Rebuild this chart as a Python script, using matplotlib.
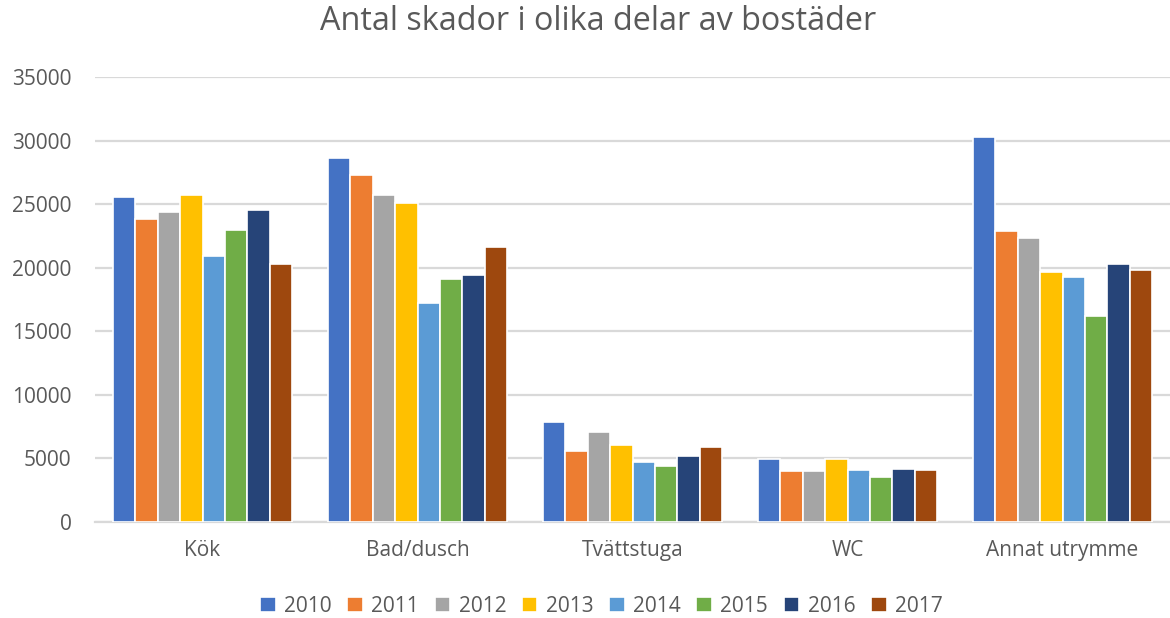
import matplotlib
matplotlib.use("Agg")
import matplotlib.pyplot as plt
import numpy as np

# Antal skador per utrymme och år
rum = ["Kök", "Bad/dusch", "Tvättstuga", "WC", "Annat utrymme"]
ar = ["2010", "2011", "2012", "2013", "2014", "2015", "2016", "2017"]

skador_2010 = [25600, 28600, 7900, 4950, 30300]
skador_2011 = [23800, 27300, 5600, 4050, 22900]
skador_2012 = [24400, 25700, 7100, 4050, 22300]
skador_2013 = [25700, 25100, 6050, 4950, 19700]
skador_2014 = [20900, 17200, 4700, 4100, 19300]
skador_2015 = [23000, 19100, 4400, 3550, 16200]
skador_2016 = [24550, 19400, 5200, 4150, 20300]
skador_2017 = [20300, 21600, 5900, 4100, 19800]

serier = [skador_2010, skador_2011, skador_2012, skador_2013,
          skador_2014, skador_2015, skador_2016, skador_2017]
farger = ["#4472C4", "#ED7D31", "#A5A5A5", "#FFC000",
          "#5B9BD5", "#70AD47", "#264478", "#9E480E"]

plt.rcParams["font.family"] = ["Open Sans", "DejaVu Sans"]
textfarg = "#595959"

fig = plt.figure(figsize=(11.7, 6.18), dpi=100)
ax = fig.add_axes([95 / 1170, 1 - 522 / 618, 1 - 95 / 1170, (522 - 77) / 618])

x = np.arange(len(rum))
steg = 0.104
for i, (varden, farg) in enumerate(zip(serier, farger)):
    ax.bar(x + (i - 3.5) * steg, varden, width=steg, color=farg,
           edgecolor="white", linewidth=1.2, label=ar[i], zorder=3)

ax.set_xlim(-0.5, len(rum) - 0.5)
ax.set_ylim(0, 35000)
ax.set_yticks(np.arange(0, 35001, 5000))
ax.yaxis.grid(True, color="#D9D9D9", linewidth=1.6, zorder=0)
ax.set_xticks(x)
ax.set_xticklabels(rum)
ax.tick_params(axis="both", length=0, labelsize=15, labelcolor=textfarg)
ax.tick_params(axis="y", pad=17)
ax.tick_params(axis="x", pad=13)
for sida in ["top", "right", "left"]:
    ax.spines[sida].set_visible(False)
ax.spines["bottom"].set_color("#D9D9D9")
ax.spines["bottom"].set_linewidth(1.6)

fig.text(0.511, 1 - 22 / 618, "Antal skador i olika delar av bostäder",
         ha="center", va="center", fontsize=23.3, color=textfarg)

fig.legend(loc="center", bbox_to_anchor=(0.514, 1 - 606 / 618), ncol=8,
           frameon=False, fontsize=15, labelcolor=textfarg,
           handlelength=0.75, handleheight=0.75, handletextpad=0.4,
           columnspacing=0.75)

fig.savefig("out.png", dpi=100)
plt.close(fig)
